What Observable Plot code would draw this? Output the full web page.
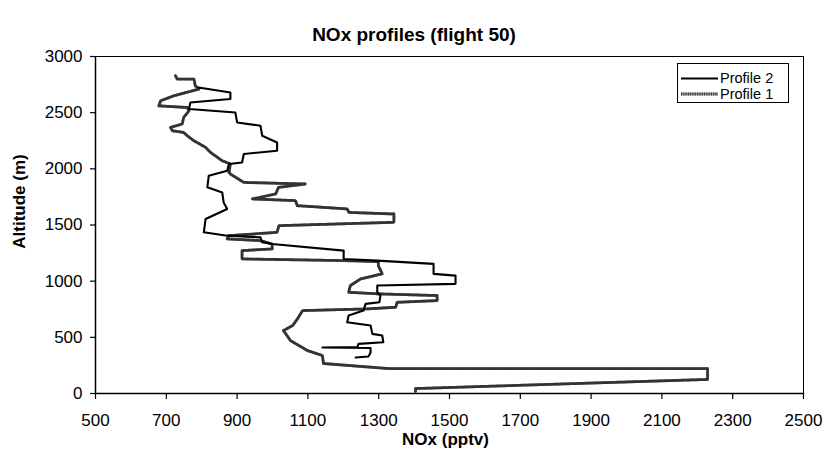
<!DOCTYPE html>
<html><head><meta charset="utf-8">
<script src="https://cdn.jsdelivr.net/npm/d3@7"></script>
<script src="https://cdn.jsdelivr.net/npm/@observablehq/plot@0.6"></script>
<style>
body{margin:0;background:#fff;font-family:"Liberation Sans",Arial,sans-serif;}
#wrap{position:relative;width:824px;height:449px;overflow:hidden;}
#title{height:46px;box-sizing:border-box;padding-top:25px;line-height:20px;text-align:center;font-weight:bold;font-size:19px;padding-left:4px;}
#legend{position:absolute;left:677px;top:63px;width:112px;height:40px;border:1px solid #000;box-sizing:border-box;background:#fff;}
#legend svg{display:block;}
</style></head>
<body><div id="wrap"><div id="title"></div><div id="chart"></div><div id="legend"></div></div>
<script>
const titleText = "NOx profiles (flight 50)";
const xTitle = "NOx (pptv)";
const yTitle = "Altitude (m)";
const seriesNames = ["Profile 2", "Profile 1"];
const xTicks = [500, 700, 900, 1100, 1300, 1500, 1700, 1900, 2100, 2300, 2500];
const yTicks = [0, 500, 1000, 1500, 2000, 2500, 3000];

// Profile 1 (grey dotted)
const p1Nox = [1404,1404,2229,2229,1328,1144,1141,1099,1051,1031,1057,1071,1085,1268,1348,1352,1465,1465,1299,1215,1220,1249,1310,1299,1299,1201,914,914,999,999,966,872,877,1013,1018,1343,1343,1216,1211,1070,1065,943,1009,1017,1093,919,881,877,881,858,825,811,778,759,749,717,712,745,749,764,759,679,684,721,792,782,778,731,726];
const p1Alt = [18,44,125,222,222,267,338,382,471,560,605,667,738,753,768,812,827,872,887,901,961,1020,1065,1138,1174,1183,1198,1272,1287,1331,1361,1376,1405,1435,1494,1524,1598,1612,1643,1672,1717,1732,1776,1835,1865,1879,1954,1968,2043,2072,2146,2191,2250,2295,2324,2339,2369,2399,2457,2517,2546,2561,2606,2650,2710,2739,2799,2799,2828];

// Profile 2 (black solid)
const p2Nox = [1235,1271,1277,1277,1141,1240,1243,1313,1310,1282,1277,1211,1215,1257,1263,1302,1305,1296,1296,1517,1517,1455,1455,1296,1201,1201,999,971,966,872,806,811,872,862,858,816,820,872,877,914,919,1013,1013,971,966,900,895,764,768,881,881,791];
const p2Alt = [320,329,365,405,409,414,442,456,516,531,605,634,694,738,798,812,872,901,961,976,1049,1065,1154,1183,1198,1272,1331,1346,1390,1405,1435,1554,1643,1701,1790,1835,1939,1983,2043,2057,2132,2161,2235,2295,2384,2413,2502,2532,2591,2621,2680,2724];

const p1 = p1Nox.map((v, i) => ({nox: v, alt: p1Alt[i]}));
const p2 = p2Nox.map((v, i) => ({nox: v, alt: p2Alt[i]}));

document.getElementById("title").textContent = titleText;

const plot = Plot.plot({
  width: 824, height: 403,
  marginTop: 10, marginBottom: 56, marginLeft: 95, marginRight: 21,
  x: {domain: [500, 2500]},
  y: {domain: [0, 3000]},
  style: {fontFamily: "Liberation Sans, Arial, sans-serif", fontSize: "17px", color: "#000", background: "#fff", overflow: "visible"},
  marks: [
    Plot.frame({stroke: "#000", strokeWidth: 1}),
    Plot.axisX(xTicks, {tickSize: 6, tickPadding: 14, tickFormat: d => String(d), label: null, strokeWidth: 1.2}),
    Plot.axisY(yTicks, {tickSize: 5, tickPadding: 8, tickFormat: d => String(d), label: null, strokeWidth: 1.2}),
    Plot.ruleX([500], {stroke: "#000", strokeWidth: 1.5}),
    Plot.ruleY([0], {stroke: "#000", strokeWidth: 1.5}),
    Plot.line(p1, {x: "nox", y: "alt", stroke: "#999", strokeWidth: 2.8}),
    Plot.line(p1, {x: "nox", y: "alt", stroke: "#333", strokeWidth: 2.8, strokeDasharray: "1,1.3"}),
    Plot.line(p2, {x: "nox", y: "alt", stroke: "#000", strokeWidth: 2.1}),
    Plot.text([xTitle], {frameAnchor: "bottom", dy: 51, dx: -4, lineAnchor: "bottom", fontWeight: "bold", fontSize: 17}),
    Plot.text([yTitle], {frameAnchor: "left", rotate: -90, dx: -76, dy: -23.5, textAnchor: "middle", lineAnchor: "middle", fontWeight: "bold", fontSize: 17})
  ]
});
document.getElementById("chart").appendChild(plot);

// legend
const lg = d3.select("#legend").append("svg").attr("width", 110).attr("height", 38)
  .style("font-family", "Liberation Sans, Arial, sans-serif").style("font-size", "14.5px");
lg.append("line").attr("x1", 3).attr("x2", 40).attr("y1", 14.5).attr("y2", 14.5).attr("stroke", "#000").attr("stroke-width", 2);
lg.append("text").attr("x", 42).attr("y", 19).text(seriesNames[0]);
lg.append("line").attr("x1", 3).attr("x2", 40).attr("y1", 30).attr("y2", 30).attr("stroke", "#999").attr("stroke-width", 2.8);
lg.append("line").attr("x1", 3).attr("x2", 40).attr("y1", 30).attr("y2", 30).attr("stroke", "#333").attr("stroke-width", 2.8).attr("stroke-dasharray", "1,1.3");
lg.append("text").attr("x", 42).attr("y", 35).text(seriesNames[1]);
</script>
</body></html>
